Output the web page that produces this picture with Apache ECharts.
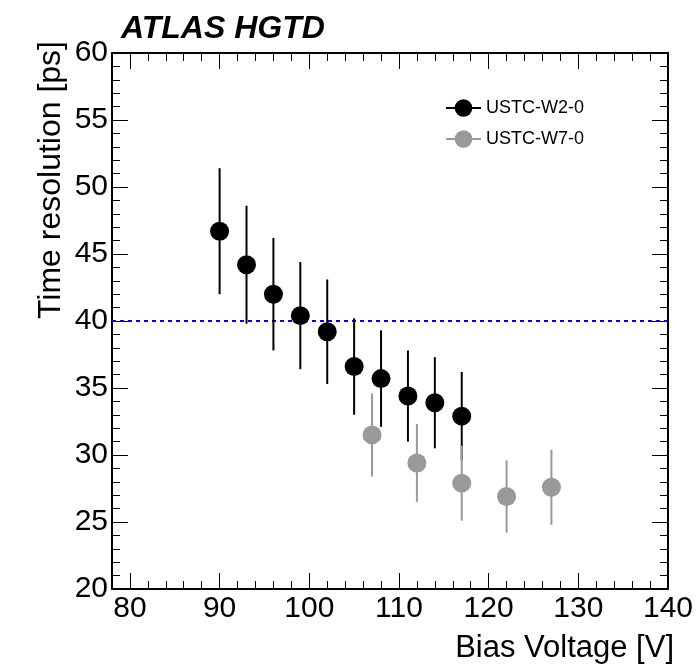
<!DOCTYPE html>
<html>
<head>
<meta charset="utf-8">
<script src="https://cdn.jsdelivr.net/npm/echarts@6/dist/echarts.min.js"></script>
<style>
html,body{margin:0;padding:0;background:#fff;}
#chart{width:698px;height:665px;}
</style>
</head>
<body>
<div id="chart"></div>
<script>
// ---- data ----
const w2Name = 'USTC-W2-0';
const w2Volt = [90, 93, 96, 99, 102, 105, 108, 111, 114, 117];
const w2Res  = [46.7, 44.2, 42.0, 40.4, 39.2, 36.6, 35.7, 34.4, 33.9, 32.9];
const w2Err  = [4.7, 4.4, 4.2, 4.0, 3.9, 3.6, 3.6, 3.4, 3.4, 3.3];

const w7Name = 'USTC-W7-0';
const w7Volt = [107, 112, 117, 122, 127];
const w7Res  = [31.5, 29.4, 27.9, 26.9, 27.6];
const w7Err  = [3.1, 2.9, 2.8, 2.7, 2.8];

const threshold = 40;

const xMajorTicks = [80, 90, 100, 110, 120, 130, 140];
const xMinorTicks = [78, 82, 84, 86, 88, 92, 94, 96, 98, 102, 104, 106, 108, 112, 114, 116, 118, 122, 124, 126, 128, 132, 134, 136, 138];

const titleText = 'ATLAS HGTD';
const xTitle = 'Bias Voltage [V]';
const yTitle = 'Time resolution [ps]';

// ---- build ----
const FONT = '"Liberation Sans", Arial, Helvetica, sans-serif';
const X_MIN = 78, X_MAX = 140, Y_MIN = 20, Y_MAX = 60;

function pts(v, r) { return v.map((x, i) => [x, r[i]]); }
function bars(v, r, e) { return v.map((x, i) => [x, r[i] - e[i], r[i] + e[i]]); }
function errRender(color) {
  return function (params, api) {
    const x = api.value(0);
    const p1 = api.coord([x, api.value(1)]);
    const p2 = api.coord([x, api.value(2)]);
    return { type: 'line', shape: { x1: p1[0], y1: p1[1], x2: p2[0], y2: p2[1] },
             style: { stroke: color, lineWidth: 2 } };
  };
}

function xAxisDef(pos, ticks, len, showLine, showLabel) {
  return {
    type: 'value', position: pos, min: X_MIN, max: X_MAX,
    axisLine: { show: showLine, onZero: false, lineStyle: { color: '#000', width: 2 } },
    axisTick: { show: true, inside: true, length: len, customValues: ticks, lineStyle: { color: '#000', width: 1 } },
    axisLabel: showLabel ? { show: true, customValues: ticks, fontSize: 30, color: '#000', fontFamily: FONT, margin: 5 } : { show: false },
    splitLine: { show: false }
  };
}
function yAxisDef(pos, showLabel) {
  return {
    type: 'value', position: pos, min: Y_MIN, max: Y_MAX, interval: 5,
    axisLine: { show: true, onZero: false, lineStyle: { color: '#000', width: 2 } },
    axisTick: { show: true, inside: true, length: 16, lineStyle: { color: '#000', width: 1 } },
    minorTick: { show: true, splitNumber: 5, length: 8, lineStyle: { color: '#000', width: 1 } },
    axisLabel: showLabel ? { show: true, fontSize: 30, color: '#000', fontFamily: FONT, margin: 4 } : { show: false },
    splitLine: { show: false }, minorSplitLine: { show: false }
  };
}

const chart = echarts.init(document.getElementById('chart'), null, { renderer: 'canvas' });
chart.setOption({
  animation: false,
  backgroundColor: '#fff',
  title: {
    text: titleText, left: 121, top: 13, padding: 0,
    textStyle: { fontSize: 32, fontWeight: 'bold', fontStyle: 'italic', color: '#000', fontFamily: FONT }
  },
  grid: { left: 112, right: 30, top: 53, bottom: 76, containLabel: false },
  legend: {
    orient: 'vertical', left: 440, top: 94, itemWidth: 35, itemHeight: 22, itemGap: 13,
    data: [w2Name, w7Name],
    textStyle: { fontSize: 18, color: '#000', fontFamily: FONT },
    lineStyle: { opacity: 1, width: 2 },
    selectedMode: false
  },
  xAxis: [
    xAxisDef('bottom', xMajorTicks, 16, true, true),
    xAxisDef('bottom', xMinorTicks, 8, false, false),
    xAxisDef('top', xMajorTicks, 16, true, false),
    xAxisDef('top', xMinorTicks, 8, false, false)
  ],
  yAxis: [yAxisDef('left', true), yAxisDef('right', false)],
  graphic: [
    { type: 'text', x: 51, y: 41, rotation: Math.PI / 2,
      style: { text: yTitle, fontSize: 32, fontFamily: FONT, fill: '#000', align: 'right', verticalAlign: 'middle' } },
    { type: 'text', x: 674, y: 648,
      style: { text: xTitle, fontSize: 31, fontFamily: FONT, fill: '#000', align: 'right', verticalAlign: 'middle' } }
  ],
  series: [
    {
      name: w2Name + ' err', type: 'custom', xAxisIndex: 0, yAxisIndex: 0, z: 6, silent: true,
      renderItem: errRender('#000'), encode: { x: 0, y: [1, 2] }, data: bars(w2Volt, w2Res, w2Err),
      markLine: {
        silent: true, symbol: ['none', 'none'], z: 1, label: { show: false },
        lineStyle: { color: '#0000ff', width: 2, type: [4, 4] },
        data: [{ yAxis: threshold }]
      }
    },
    {
      name: w2Name, type: 'line', xAxisIndex: 0, yAxisIndex: 0, z: 7,
      symbol: 'circle', symbolSize: 19, showSymbol: true,
      itemStyle: { color: '#000' }, lineStyle: { color: '#000', opacity: 0, width: 2 },
      data: pts(w2Volt, w2Res)
    },
    {
      name: w7Name + ' err', type: 'custom', xAxisIndex: 0, yAxisIndex: 0, z: 8, silent: true,
      renderItem: errRender('#999999'), encode: { x: 0, y: [1, 2] }, data: bars(w7Volt, w7Res, w7Err)
    },
    {
      name: w7Name, type: 'line', xAxisIndex: 0, yAxisIndex: 0, z: 9,
      symbol: 'circle', symbolSize: 19, showSymbol: true,
      itemStyle: { color: '#999999' }, lineStyle: { color: '#999999', opacity: 0, width: 2 },
      data: pts(w7Volt, w7Res)
    }
  ]
});
</script>
</body>
</html>
